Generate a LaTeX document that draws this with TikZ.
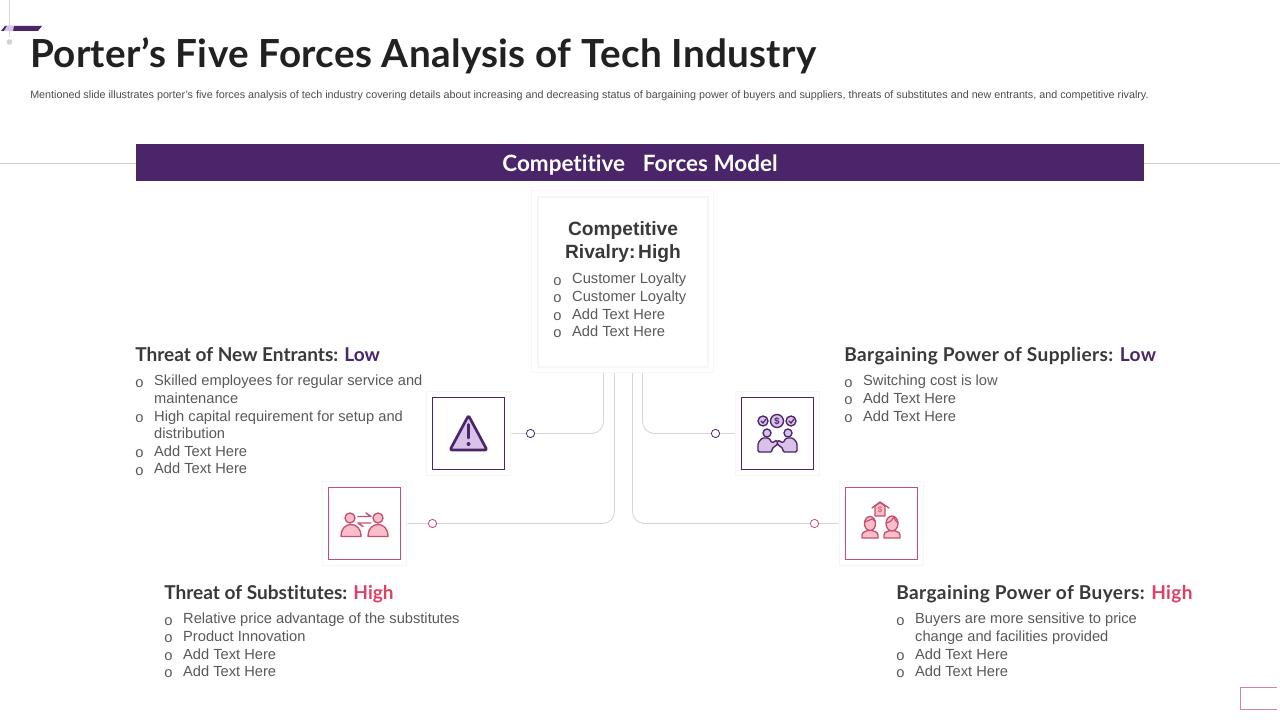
\documentclass[tikz,border=0pt]{standalone}
\usepackage{fontspec}
\setmainfont{Liberation Sans}
\newfontfamily\lato[Ligatures=NoCommon]{Lato}
\newfontfamily\latot[Ligatures=NoCommon,LetterSpace=0.8]{Lato}
\newfontfamily\latos[Ligatures=NoCommon,LetterSpace=2.0]{Lato}
\usetikzlibrary{calc}
\definecolor{purp}{HTML}{4A2569}
\definecolor{pink}{HTML}{DF3F63}
\definecolor{pinkline}{HTML}{C4506F}
\definecolor{lilac}{HTML}{D9C2EA}
\definecolor{rose}{HTML}{FABECB}
\definecolor{bodytx}{HTML}{595959}
\definecolor{headtx}{HTML}{3B3838}
\definecolor{halo}{HTML}{F6F5F7}
\definecolor{connc}{HTML}{D6D3DA}
\newlength{\bulw}\setlength{\bulw}{14.2pt}
\newcommand{\bul}{\makebox[\bulw][l]{\raisebox{-0.9pt}{\fontsize{11}{12}\selectfont o}}}
\newcommand{\cont}{\hspace*{\bulw}}
\tikzset{
 x=0.75pt,y=-0.75pt,
 halobox/.style={draw=halo,line width=0.9pt,fill=white,minimum width=63.5pt,minimum height=63.5pt,inner sep=0pt},
 iconp/.style={draw=purp,line width=0.85pt,fill=white,minimum width=54.6pt,minimum height=54.6pt,inner sep=0pt},
 iconr/.style={draw=pinkline,line width=0.85pt,fill=white,minimum width=54.6pt,minimum height=54.6pt,inner sep=0pt},
 conn/.style={draw=connc,line width=0.6pt,rounded corners=9pt},
 dotp/.style={circle,draw=purp,line width=0.6pt,fill=white,minimum size=6.2pt,inner sep=0pt},
 dotr/.style={circle,draw=pinkline,line width=0.6pt,fill=white,minimum size=6.2pt,inner sep=0pt},
 sect/.style={anchor=base west,inner sep=0pt,font=\lato\bfseries\fontsize{14.3}{17}\selectfont,text=headtx},
 sectw/.style={sect,font=\latos\bfseries\fontsize{14.3}{17}\selectfont},
 lst/.style={anchor=north west,inner sep=0pt,align=left,text=bodytx,font=\fontsize{11}{13.2}\selectfont},
 icp/.style={draw=purp,line width=1pt,fill=lilac,line join=round,line cap=round},
 icpb/.style={draw=purp,line width=2pt,fill=lilac,line join=round,line cap=round},
 icr/.style={draw=pinkline,line width=1pt,fill=rose,line join=round,line cap=round},
}
\begin{document}
\begin{tikzpicture}
\useasboundingbox (0,0) rectangle (1280,720);
\fill[white] (0,0) rectangle (1280,720);
% top-left ornament
\draw[draw=lightgray!60,line width=0.75pt] (9.5,0) -- (9.5,37);
\fill[lightgray!70] (9.5,42) circle[radius=2.8];
\fill[purp] (1,31) -- (5,26) -- (42,26) -- (38,31) -- cycle;
\fill[lilac] (4,31) -- (7,26) -- (14,26) -- (13,31) -- cycle;
% title
\node[anchor=base west,inner sep=0pt,text=black!87] (title) at (30,68) {\latot\bfseries\fontsize{29}{34}\selectfont Porter’s Five Forces Analysis of Tech Industry};
\node[anchor=base west,inner sep=0pt,text=bodytx!85!black] (sub) at (30,99) {\fontsize{8.07}{10}\selectfont Mentioned slide illustrates porter's five forces analysis of tech industry covering details about increasing and decreasing status of bargaining power of buyers and suppliers, threats of substitutes and new entrants, and competitive rivalry.};
% rule and banner
\draw[draw=black!18,line width=0.6pt] (0,163.5) -- (1280,163.5);
\fill[purp] (136,144) rectangle (1144,181);
\node[inner sep=0pt,text=white] (banner) at (640,165.5) {\lato\bfseries\fontsize{16.85}{20}\selectfont Competitive\hspace{0.55em} Forces Model};
% connector end points on the centre box
\coordinate (c1) at (603.5,372);
\coordinate (c2) at (614.5,372);
\coordinate (c3) at (642.5,372);
\coordinate (c4) at (632.5,372);
% icon frames
\node[halobox] (h1) at (468.5,433.5) {};
\node[iconp] (i1) at (468.5,433.5) {};
\node[halobox] (h2) at (777.5,433.5) {};
\node[iconp] (i2) at (777.5,433.5) {};
\node[halobox] (h3) at (364.5,523.5) {};
\node[iconr] (i3) at (364.5,523.5) {};
\node[halobox] (h4) at (881.5,523.5) {};
\node[iconr] (i4) at (881.5,523.5) {};
% connectors
\draw[conn] (c1) |- (h1.east);
\draw[conn] (c2) |- (h3.east);
\draw[conn] (c3) |- (h2.west);
\draw[conn] (c4) |- (h4.west);
\node[dotp] (d1) at (530.5,433.5) {};
\node[dotp] (d2) at (715.5,433.5) {};
\node[dotr] (d3) at (432.5,523.5) {};
\node[dotr] (d4) at (814.5,523.5) {};
% centre box
\node[draw=halo,line width=0.9pt,fill=white,minimum width=137pt,minimum height=136pt,inner sep=0pt] (co) at (622.5,281.5) {};
\node[draw=halo,line width=0.9pt,fill=white,minimum width=127.5pt,minimum height=127.5pt,inner sep=0pt] (ci) at (623,282) {};
\node[inner sep=0pt,align=center,text=headtx,font=\bfseries\fontsize{14.4}{17.3}\selectfont] (ct) at (623,242) {Competitive\\Rivalry:\hspace{0.14em}High};
\node[lst] (cl) at (553,273) {\bul Customer Loyalty\\\bul Customer Loyalty\\\bul Add Text Here\\\bul Add Text Here};
% warning icon
\draw[icpb,rounded corners=1.5pt] (468.5,415.5) -- (487,450) -- (450,450) -- cycle;
\draw[draw=purp,line width=2pt,line cap=round] (468.5,424.5) -- (468.5,438);
\fill[purp] (468.5,444) circle[radius=2];
% suppliers icon
\draw[icp] (763,421) circle[radius=5];
\draw[icp] (777,421) circle[radius=6.5];
\draw[icp] (791,421) circle[radius=5];
\draw[draw=purp,line width=0.9pt,line cap=round] (761,421) -- (763,423) -- (766,419);
\draw[draw=purp,line width=0.9pt,line cap=round] (789,421) -- (791,423) -- (794,419);
\node[inner sep=0pt,text=purp] (dollar1) at (777,421) {\bfseries\fontsize{7}{8}\selectfont\$};
\draw[icp] (767,433) circle[radius=4];
\draw[icp] (788,433) circle[radius=4];
\draw[icp,rounded corners=1pt] (758,452) -- (758,443) -- (762,438) -- (769,438) -- (772,443) -- (777,440) -- (778,444) -- (772,448.5) -- (772,452) -- cycle;
\draw[icp,rounded corners=1pt] (797,452) -- (797,443) -- (793,438) -- (786,438) -- (783,443) -- (778,440) -- (777,444) -- (783,448.5) -- (783,452) -- cycle;
% substitutes icon
\draw[icr] (350,518) circle[radius=5];
\draw[icr] (378,518) circle[radius=5];
\draw[icr] (341,536.5) .. controls (341,528) and (346,524.5) .. (351,524.5) .. controls (356,524.5) and (361,528) .. (361,536.5) -- cycle;
\draw[icr] (368,536.5) .. controls (368,528) and (373,524.5) .. (378,524.5) .. controls (383,524.5) and (388,528) .. (388,536.5) -- cycle;
\draw[draw=pinkline,line width=1.1pt,line cap=round,line join=round] (358,516.5) -- (371,516.5) -- (366,513);
\draw[draw=pinkline,line width=1.1pt,line cap=round,line join=round] (371,523) -- (358,523) -- (363,526.5);
% buyers icon
\draw[icr] (875,506) -- (875,516) -- (885,516) -- (885,506) -- (880,502.5) -- cycle;
\draw[icr,fill=none] (872,508) -- (880,502) -- (889,508);
\node[inner sep=0pt,text=pinkline] (dollar2) at (880,510) {\fontsize{6}{7}\selectfont\$};
\draw[icr] (862,538) -- (862,535) .. controls (862,532) and (866,531) .. (870,530) .. controls (874,531) and (878,532) .. (878,535) -- (878,538) -- cycle;
\draw[icr] (870,523.5) ellipse[x radius=5.5,y radius=7];
\draw[draw=pinkline,line width=0.9pt] (865,522) -- (872,519) -- (875,521);
\draw[icr] (884,538) -- (884,535) .. controls (884,532) and (888,531) .. (892,530) .. controls (896,531) and (900,532) .. (900,535) -- (900,538) -- cycle;
\draw[icr] (892,523.5) ellipse[x radius=6,y radius=7.5];
\draw[draw=pinkline,line width=0.9pt] (886.5,523) .. controls (890,522) and (893,520) .. (894,517);
\draw[draw=pinkline,line width=0.9pt] (894,517) .. controls (895,520) and (896,522) .. (898,523);
% section texts
\node[sect] (s1) at (135,361) {Threat of New Entrants: \textcolor{purp}{Low}};
\node[lst] (l1) at (135,375) {\bul Skilled employees for regular service and\\\cont maintenance\\\bul High capital requirement for setup and\\\cont distribution\\\bul Add Text Here\\\bul Add Text Here};
\node[sectw] (s2) at (844,361) {Bargaining Power of Suppliers: \textcolor{purp}{Low}};
\node[lst] (l2) at (844,375) {\bul Switching cost is low\\\bul Add Text Here\\\bul Add Text Here};
\node[sect] (s3) at (164,599) {Threat of Substitutes: \textcolor{pink}{High}};
\node[lst] (l3) at (164,613) {\bul Relative price advantage of the substitutes\\\bul Product Innovation\\\bul Add Text Here\\\bul Add Text Here};
\node[sectw] (s4) at (896,599) {Bargaining Power of Buyers: \textcolor{pink}{High}};
\node[lst] (l4) at (896,613) {\bul Buyers are more sensitive to price\\\cont change and facilities provided\\\bul Add Text Here\\\bul Add Text Here};
% bottom-right mark
\draw[draw=pinkline!70,line width=0.6pt,fill=white] (1277,687.5) -- (1240.5,687.5) -- (1240.5,709) -- (1277,709);
\end{tikzpicture}
\end{document}
